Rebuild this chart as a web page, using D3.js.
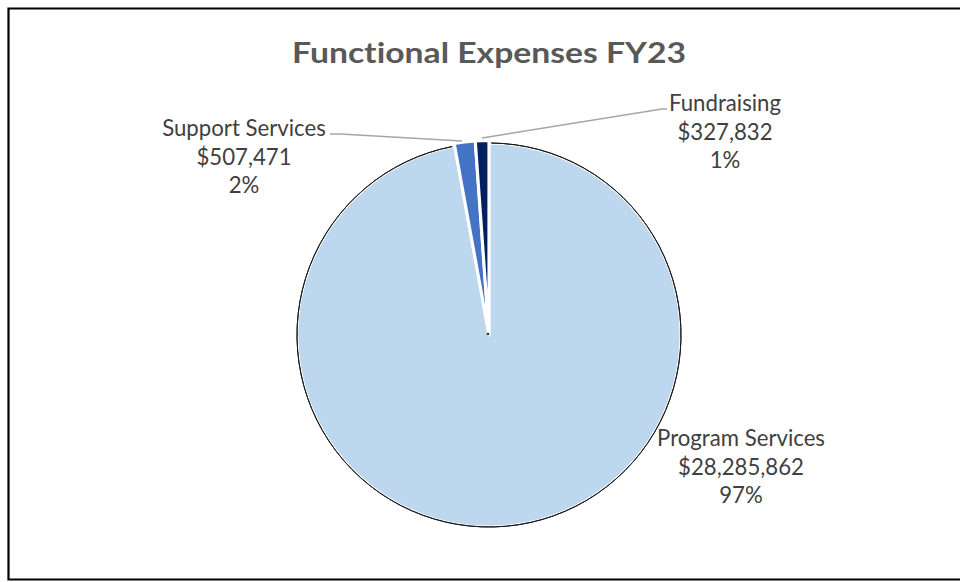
<!DOCTYPE html>
<html>
<head>
<meta charset="utf-8">
<script src="https://cdn.jsdelivr.net/npm/d3@7"></script>
<style>
  body { margin: 0; background: #fff; }
  svg { display: block; }
  text { font-variant-ligatures: none; }
</style>
</head>
<body>
<script>
// data
var categories = ["Program Services", "Support Services", "Fundraising"];
var amounts = [28285862, 507471, 327832];
var colors = ["#BDD7EE", "#4472C4", "#002060"];

var width = 960, height = 582;
var cx = 489, cy = 335, radius = 192;

// label anchor points (centre x, first baseline)
var labelPos = [
  {x: 741, y: 446},
  {x: 244, y: 136},
  {x: 725, y: 111}
];
// leader lines: from label side to the slice
var leaders = [
  null,
  [[330, 134], [340, 134], [462, 141]],
  [[667, 109], [662, 109], [482, 138]]
];

var svg = d3.select("body").append("svg")
  .attr("width", width)
  .attr("height", height);

svg.append("rect")
  .attr("width", width).attr("height", height)
  .attr("fill", "#fff");

// chart frame (right edge runs off the picture)
svg.append("path")
  .attr("d", "M" + (width + 5) + ",8.5 H8.5 V579.5 H" + (width + 5))
  .attr("fill", "none")
  .attr("stroke", "#000")
  .attr("stroke-width", 2.2);

svg.append("text")
  .attr("x", cx)
  .attr("y", 63)
  .attr("text-anchor", "middle")
  .attr("font-family", "Lato, 'Open Sans', sans-serif")
  .attr("font-weight", "bold")
  .attr("font-size", 29)
  .attr("textLength", 394)
  .attr("lengthAdjust", "spacingAndGlyphs")
  .attr("fill", "#595959")
  .text("Functional Expenses FY23");

var total = d3.sum(amounts);

var pie = d3.pie().sort(null).value(function(d) { return d; });
var arcs = pie(amounts);

var arc = d3.arc().innerRadius(0).outerRadius(radius);

var g = svg.append("g").attr("transform", "translate(" + cx + "," + cy + ")");

g.selectAll("path.slice").data(arcs).enter()
  .append("path")
  .attr("class", "slice")
  .attr("transform", function(d, i) {
    if (i === 0) return null;
    var a = (d.startAngle + d.endAngle) / 2;
    var off = 2.5;
    return "translate(" + (Math.sin(a) * off) + "," + (-Math.cos(a) * off) + ")";
  })
  .attr("d", arc)
  .attr("fill", function(d, i) { return colors[i]; })
  .attr("stroke", "#fff")
  .attr("stroke-width", 3)
  .attr("stroke-linejoin", "round");

// thin dark rim on the big slice only
g.append("path")
  .attr("d", d3.arc().innerRadius(radius).outerRadius(radius)
    .startAngle(arcs[0].startAngle + 0.012).endAngle(arcs[0].endAngle - 0.012)())
  .attr("fill", "none")
  .attr("stroke", "#1a1a1a")
  .attr("stroke-width", 1);

g.append("circle").attr("r", 1.3).attr("cx", -1).attr("cy", -1).attr("fill", "#333");

var line = d3.line();
svg.selectAll("path.leader").data(leaders.filter(function(d) { return d; })).enter()
  .append("path")
  .attr("class", "leader")
  .attr("d", line)
  .attr("fill", "none")
  .attr("stroke", "#A6A6A6")
  .attr("stroke-width", 1.6);

var labels = svg.selectAll("text.lbl").data(arcs).enter()
  .append("text")
  .attr("class", "lbl")
  .attr("text-anchor", "middle")
  .attr("font-family", "Lato, 'Open Sans', sans-serif")
  .attr("font-size", 22.2)
  .attr("fill", "#404040");

labels.each(function(d, i) {
  var t = d3.select(this);
  var p = labelPos[i];
  var lines = [
    categories[i],
    "$" + d3.format(",")(amounts[i]),
    d3.format(".0%")(amounts[i] / total)
  ];
  lines.forEach(function(s, k) {
    t.append("tspan").attr("x", p.x).attr("y", p.y + k * 28.5).text(s);
  });
});
</script>
</body>
</html>
